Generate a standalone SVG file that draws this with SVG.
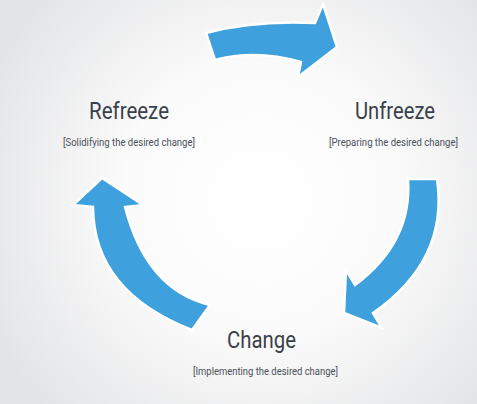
<svg xmlns="http://www.w3.org/2000/svg" width="477" height="404" viewBox="0 0 477 404">
<defs>
<radialGradient id="bg" cx="260" cy="200" r="300" gradientUnits="userSpaceOnUse">
<stop offset="0" stop-color="#ffffff"/>
<stop offset="0.45" stop-color="#fbfbfb"/>
<stop offset="1" stop-color="#e3e4e6"/>
</radialGradient>
</defs>
<style>
.arrow{fill:#3ea0dd;stroke:#ffffff;stroke-width:2.5;stroke-linejoin:miter}
.title{font-family:Roboto,"Liberation Sans",sans-serif;font-size:24px;fill:#3a4049}
.sub{font-family:Roboto,"Liberation Sans",sans-serif;font-size:10px;fill:#4a5058}
</style>
<rect width="477" height="404" fill="url(#bg)"/>
<g id="connectors">
<path class="arrow" d="M206,33 Q253.5,20 315,23 L323,4 L337,47 L298,77 L301,62 Q256,49 215,60 Z"/>
<path class="arrow" d="M437,179 L408,179 Q412.5,242 355,285 L346,270 L344,313 L382,328 L373,313 Q449,260 437,179 Z"/>
<path class="arrow" d="M102,178 L143,205 L125,207 Q146.5,290 210,305 L192,330 Q93.5,291.5 93,207 L73,205 Z"/>
</g>
<g id="refreeze">
<text class="title" x="129" y="119" text-anchor="middle" textLength="80" lengthAdjust="spacingAndGlyphs">Refreeze</text>
<text class="sub" x="129" y="146" text-anchor="middle" textLength="132" lengthAdjust="spacingAndGlyphs">[Solidifying the desired change]</text>
</g>
<g id="unfreeze">
<text class="title" x="395" y="119" text-anchor="middle" textLength="80" lengthAdjust="spacingAndGlyphs">Unfreeze</text>
<text class="sub" x="393.5" y="146" text-anchor="middle" textLength="129" lengthAdjust="spacingAndGlyphs">[Preparing the desired change]</text>
</g>
<g id="change">
<text class="title" x="261.5" y="348" text-anchor="middle" textLength="69" lengthAdjust="spacingAndGlyphs">Change</text>
<text class="sub" x="265.5" y="375" text-anchor="middle" textLength="145" lengthAdjust="spacingAndGlyphs">[Implementing the desired change]</text>
</g>
</svg>
